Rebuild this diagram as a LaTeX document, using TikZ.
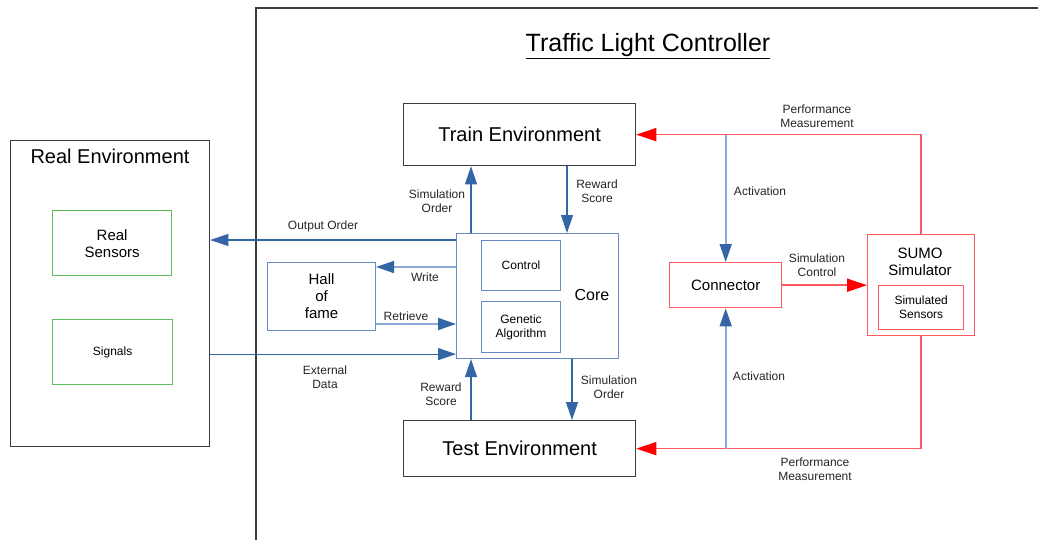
\documentclass[tikz,border=0pt]{standalone}
\usepackage{fontspec}
\setmainfont{Liberation Sans}
\usetikzlibrary{arrows.meta}
\definecolor{boxgray}{HTML}{3C3C3C}
\definecolor{dblue}{HTML}{3465A4}
\definecolor{lblue}{HTML}{8AABD6}
\definecolor{cblue}{HTML}{6689C4}
\definecolor{lred}{HTML}{FF5A5F}
\definecolor{tipred}{HTML}{FF0000}
\definecolor{lgreen}{HTML}{5CBF5C}
\tikzset{
  box/.style={draw=boxgray, line width=1.25pt, anchor=north west, inner sep=0pt, align=center},
  gbox/.style={draw=lgreen, line width=1.3pt, anchor=north west, inner sep=0pt, align=center},
  bbox/.style={draw=cblue, line width=1.1pt, anchor=north west, inner sep=0pt, align=center},
  rbox/.style={draw=lred, line width=1.4pt, anchor=north west, inner sep=0pt, align=center},
  lbl/.style={font=\fontsize{12}{14}\selectfont, text=black!85, align=center, inner sep=0pt},
  barrow/.style={draw=dblue, line width=1.1pt, -{Triangle[length=18pt,width=12pt,color=dblue,fill=dblue]}},
  lbarrow/.style={draw=lblue, line width=1.7pt, -{Triangle[length=18pt,width=12pt,color=dblue,fill=dblue]}},
  rarrow/.style={draw=lred, line width=1.7pt, -{Triangle[length=20pt,width=13pt,color=tipred,fill=tipred]}},
}
\begin{document}
\begin{tikzpicture}[x=1pt,y=-1pt]
\useasboundingbox[fill=white] (0,0) rectangle (1038,539);
% outer frame (cut by the page)
\begin{scope}
\clip (0,0) rectangle (1038,539);
\draw[boxgray, line width=1.3pt] (256,560) -- (256,8) -- (1060,8);
\end{scope}
\node[font=\fontsize{25}{28}\selectfont] (title) at (648,46) {\underline{Traffic Light Controller}};

% Real environment
\node[box, minimum width=199pt, minimum height=306pt] (realenv) at (10,140) {};
\node[font=\fontsize{20}{22}\selectfont] (realtitle) at (110,156) {Real Environment};
\node[gbox, minimum width=119pt, minimum height=65pt, font=\fontsize{15}{17}\selectfont] (realsens) at (52,210) {Real\\Sensors};
\node[gbox, minimum width=120pt, minimum height=65pt, font=\fontsize{12}{14}\selectfont] (signals) at (52,319) {Signals};

% Train / Test
\node[box, minimum width=232pt, minimum height=62pt, font=\fontsize{20}{22}\selectfont] (train) at (403,103) {Train Environment};
\node[box, minimum width=232pt, minimum height=56pt, font=\fontsize{20}{22}\selectfont] (test) at (403,420) {Test Environment};

% Core
\node[bbox, minimum width=162pt, minimum height=125pt] (core) at (456,233) {};
\node[font=\fontsize{16}{18}\selectfont] (coretxt) at (592,295) {Core};
\node[bbox, minimum width=79pt, minimum height=50pt, font=\fontsize{12}{14}\selectfont] (control) at (481,240) {Control};
\node[bbox, minimum width=79pt, minimum height=51pt, font=\fontsize{12}{14}\selectfont] (genetic) at (481,301) {Genetic\\Algorithm};

% Hall of fame
\node[bbox, minimum width=108pt, minimum height=68pt, font=\fontsize{15}{17}\selectfont] (hall) at (267,262) {Hall\\of\\fame};

% Connector & SUMO
\node[rbox, minimum width=112pt, minimum height=45pt, font=\fontsize{15}{17}\selectfont] (conn) at (669,262) {Connector};
\node[rbox, minimum width=107pt, minimum height=101pt] (sumo) at (867,234) {};
\node[font=\fontsize{15}{17}\selectfont, align=center, inner sep=0pt] (sumotxt) at (920,262) {SUMO\\Simulator};
\node[rbox, minimum width=85pt, minimum height=44pt, font=\fontsize{12}{14}\selectfont] (simsens) at (878,285) {Simulated\\Sensors};

% Port coordinates
\coordinate (pOut) at ([yshift=-7pt]core.north west);
\coordinate (pExt) at ([yshift=5pt]core.south west);
\coordinate (pWrite) at ([yshift=-34pt]core.north west);
\coordinate (pRetr) at ([yshift=-91pt]core.north west);
\coordinate (pSimUp) at ([xshift=15pt]core.north west);
\coordinate (pRewDn) at ([xshift=111pt]core.north west);
\coordinate (pRewUp) at ([xshift=15pt]core.south west);
\coordinate (pSimDn) at ([xshift=116pt]core.south west);

% Blue connectors
\draw[barrow] (pOut) -- (pOut -| realenv.east);
\draw[barrow] (pExt -| realenv.east) -- (pExt);
\draw[lbarrow] (pWrite) -- (pWrite -| hall.east);
\draw[lbarrow] (pRetr -| hall.east) -- (pRetr);
\draw[barrow] (pSimUp) -- (pSimUp |- train.south);
\draw[barrow] (pRewDn |- train.south) -- (pRewDn);
\draw[barrow] (pRewUp |- test.north) -- (pRewUp);
\draw[barrow] (pSimDn) -- (pSimDn |- test.north);

% Red connectors
\draw[rarrow] (sumo.north) |- (train.east);
\draw[rarrow] (sumo.south) |- (test.east);
\draw[rarrow] (conn.east) -- (sumo.west);

% Activation
\draw[lbarrow] (conn.north |- train.east) -- (conn.north);
\draw[lbarrow] (conn.south |- test.east) -- (conn.south);

% Labels
\node[lbl] (lOut) at (323,226) {Output Order};
\node[lbl] (lExt) at (325,377) {External\\Data};
\node[lbl] (lWrite) at (425,277) {Write};
\node[lbl] (lRetr) at (406,316) {Retrieve};
\node[lbl] (lSimUp) at (437,201) {Simulation\\Order};
\node[lbl] (lRewDn) at (597,191) {Reward\\Score};
\node[lbl] (lRewUp) at (441,394) {Reward\\Score};
\node[lbl] (lSimDn) at (609,387) {Simulation\\Order};
\node[lbl] (lAct1) at (760,191) {Activation};
\node[lbl] (lAct2) at (759,376) {Activation};
\node[lbl] (lPerf1) at (817,116) {Performance\\Measurement};
\node[lbl] (lPerf2) at (815,469) {Performance\\Measurement};
\node[lbl] (lSimCtl) at (817,265) {Simulation\\Control};
\end{tikzpicture}
\end{document}
